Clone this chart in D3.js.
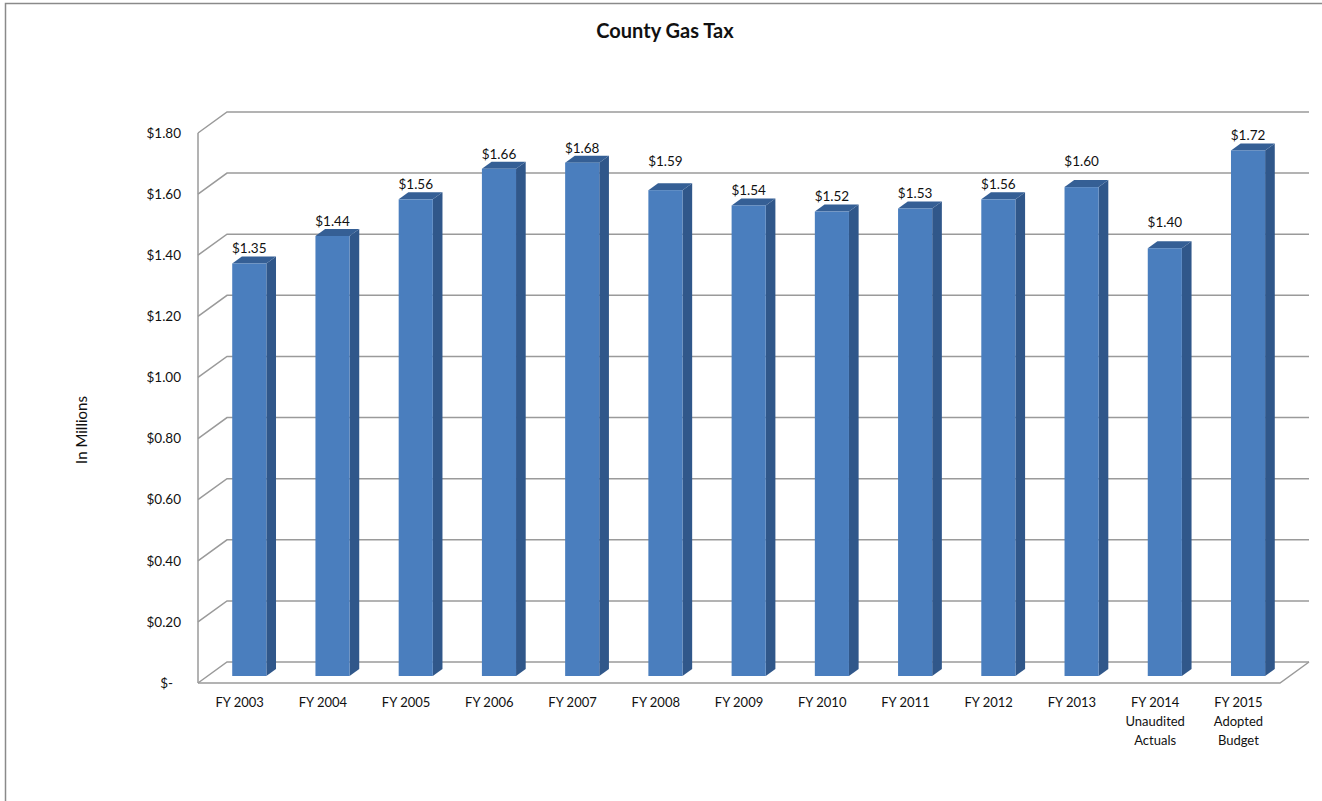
<!DOCTYPE html>
<html>
<head>
<meta charset="utf-8">
<script src="https://cdn.jsdelivr.net/npm/d3@7"></script>
<style>
  html, body { margin: 0; padding: 0; background: #fff; }
  svg { display: block; }
  text { font-family: Lato, "Open Sans", sans-serif; fill: #111; }
</style>
</head>
<body>
<svg id="chart" width="1322" height="801"></svg>
<script>
// County gas tax revenue, in millions of dollars
const categories = [
  "FY 2003", "FY 2004", "FY 2005", "FY 2006", "FY 2007", "FY 2008", "FY 2009",
  "FY 2010", "FY 2011", "FY 2012", "FY 2013",
  "FY 2014\nUnaudited\nActuals", "FY 2015\nAdopted\nBudget"
];
const revenue = [1.35, 1.44, 1.56, 1.66, 1.68, 1.59, 1.54, 1.52, 1.53, 1.56, 1.60, 1.40, 1.72];
const yTicks = [0, 0.2, 0.4, 0.6, 0.8, 1.0, 1.2, 1.4, 1.6, 1.8];
const chartTitle = "County Gas Tax";
const yAxisTitle = "In Millions";

const W = 1322, H = 801;
const svg = d3.select("#chart");

// Plot geometry: front plane of the 3D box plus the depth offset to the back wall
const plotLeft = 198, plotRight = 1280, plotBase = 683, plotTop = 133;
const depthX = 29, depthY = -21;

const x = d3.scaleBand().domain(categories).range([plotLeft, plotRight])
  .paddingInner(0.59).paddingOuter(0.295);
const y = d3.scaleLinear().domain([0, 1.8]).range([plotBase, plotTop]);

const gridColor = "#9a9a9a";

// Frame around the chart area
svg.append("path")
  .attr("d", `M5.5,${H} L5.5,3.5 L${W},3.5`)
  .attr("fill", "none").attr("stroke", "#8a8a8a").attr("stroke-width", 1.5);

// Title
svg.append("text")
  .attr("x", 665).attr("y", 38)
  .attr("text-anchor", "middle")
  .style("font-weight", "bold").style("font-size", "20px")
  .text(chartTitle);

// Axis title
svg.append("text")
  .attr("transform", "translate(87,430) rotate(-90)")
  .attr("text-anchor", "middle")
  .style("font-size", "15px")
  .text(yAxisTitle);

// Back wall gridlines and the left wall diagonals
const grid = svg.append("g").attr("fill", "none").attr("stroke", gridColor).attr("stroke-width", 1.5);
yTicks.forEach(t => {
  const yf = y(t);
  grid.append("path")
    .attr("d", `M${plotLeft},${yf} L${plotLeft + depthX},${yf + depthY} L${plotRight + depthX},${yf + depthY}`);
});
// Left wall edge and floor outline
grid.append("path").attr("d", `M${plotLeft},${y(1.8)} L${plotLeft},${plotBase}`);
grid.append("path")
  .attr("d", `M${plotLeft},${plotBase} L${plotRight},${plotBase} L${plotRight + depthX},${plotBase + depthY}`);

// Back-wall gridline heights, used to keep value labels clear of the lines
const backGridY = yTicks.map(t => y(t) + depthY);

// Bars drawn as prisms occupying the middle third of the depth
const fx = depthX / 3, fy = depthY / 3;
const bw = x.bandwidth();
const bars = svg.append("g").selectAll("g").data(categories).join("g");

bars.each(function (c, i) {
  const g = d3.select(this);
  const x0 = x(c) + fx, x1 = x0 + bw;
  const yb = y(0) + fy, yt = y(revenue[i]) + fy;
  // side face
  g.append("path")
    .attr("d", `M${x1},${yb} L${x1 + fx},${yb + fy} L${x1 + fx},${yt + fy} L${x1},${yt} Z`)
    .attr("fill", "#30578a");
  // top face
  g.append("path")
    .attr("d", `M${x0},${yt} L${x0 + fx},${yt + fy} L${x1 + fx},${yt + fy} L${x1},${yt} Z`)
    .attr("fill", "#355f95");
  // front face
  g.append("rect")
    .attr("x", x0).attr("y", yt).attr("width", bw).attr("height", yb - yt)
    .attr("fill", "#4a7ebe");
  // value label: sits above the bar, lifted over a gridline it would cross
  let cy = yt - 15;
  const hit = backGridY.find(gy => Math.abs(cy - gy) < 8);
  if (hit !== undefined) cy = hit - 12;
  g.append("text")
    .attr("x", x0 + bw / 2).attr("y", cy)
    .attr("dy", "0.36em")
    .attr("text-anchor", "middle")
    .style("font-size", "13.5px")
    .text("$" + d3.format(".2f")(revenue[i]));
});

// Y axis labels
const yAxis = d3.axisLeft(y).tickValues(yTicks).tickSize(0).tickPadding(17)
  .tickFormat(v => v === 0 ? "$-" : "$" + d3.format(".2f")(v));
const yg = svg.append("g").attr("transform", `translate(${plotLeft},0)`).call(yAxis);
yg.select(".domain").remove();
yg.selectAll("text")
  .style("font-size", "13.5px").style("font-family", "Lato, sans-serif").attr("fill", "#111")
  .attr("dx", v => v === 0 ? -8 : 0);

// X axis labels, with multi-line categories
const xAxis = d3.axisBottom(x).tickSize(0).tickPadding(15);
const xg = svg.append("g").attr("transform", `translate(0,${plotBase})`).call(xAxis);
xg.select(".domain").remove();
xg.selectAll("text")
  .style("font-size", "13px").style("font-family", "Lato, sans-serif").attr("fill", "#111")
  .each(function (c) {
    const t = d3.select(this);
    const lines = c.split("\n");
    t.text(null);
    lines.forEach((ln, k) => {
      t.append("tspan").attr("x", 0).attr("dy", k === 0 ? "0.71em" : "19px").text(ln);
    });
  })
  .attr("dy", null);
</script>
</body>
</html>
